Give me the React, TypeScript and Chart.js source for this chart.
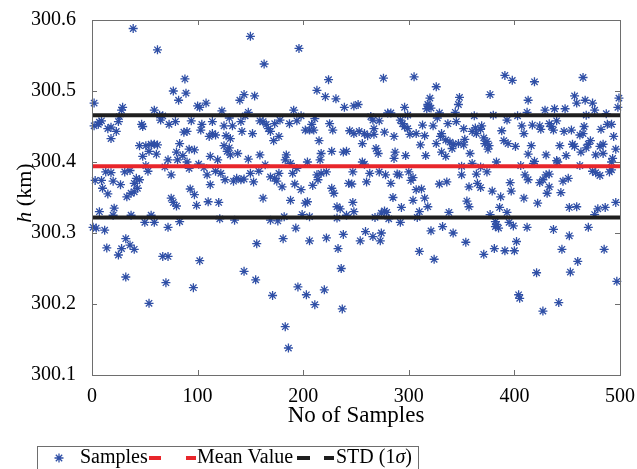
import React, { useEffect, useRef } from "react";
import { Chart, registerables } from "chart.js";

Chart.register(...registerables);

// ---------- data ----------
const xTicks = [0, 100, 200, 300, 400, 500];
const yTicks = [300.1, 300.2, 300.3, 300.4, 300.5, 300.6];
const meanValue = 300.394;
const stdValue = 0.072;

// [sample number, h (km)]
const samplesA: [number, number][] = [
  [1,300.308],[2,300.483],[2,300.451],[3,300.374],[4,300.307],[6,300.453],[7,300.456],[7,300.330],
  [9,300.458],[9,300.374],[10,300.363],[12,300.304],[13,300.386],[14,300.279],[15,300.447],[15,300.355],
  [18,300.433],[18,300.449],[18,300.385],[20,300.373],[20,300.325],[21,300.335],[23,300.443],[25,300.457],
  [25,300.269],[26,300.464],[27,300.368],[28,300.473],[28,300.278],[29,300.477],[31,300.386],[32,300.238],
  [32,300.292],[33,300.351],[36,300.388],[36,300.283],[37,300.356],[37,300.325],[39,300.588],[40,300.370],
  [40,300.358],[40,300.277],[42,300.377],[43,300.363],[45,300.375],[45,300.423],[47,300.453],[48,300.450],
  [48,300.408],[50,300.315],[51,300.423],[51,300.395],[53,300.387],[54,300.415],[54,300.201],[56,300.425],
  [56,300.325],[59,300.473],[59,300.425],[59,300.315],[61,300.411],[62,300.558],[62,300.424],[64,300.466],
  [65,300.459],[67,300.465],[67,300.267],[69,300.393],[70,300.230],[72,300.403],[72,300.308],[72,300.267],
  [73,300.453],[75,300.382],[75,300.349],[77,300.500],[77,300.343],[79,300.457],[80,300.414],[80,300.338],
  [81,300.403],[82,300.487],[83,300.426],[83,300.316],
];
const samplesB: [number, number][] = [
  [150,300.577],[163,300.538],[88,300.517],[89,300.497],[144,300.495],[154,300.493],[140,300.487],[100,300.479],
  [102,300.477],[108,300.483],[123,300.472],[148,300.470],[145,300.465],[130,300.462],[94,300.458],[114,300.457],
  [104,300.453],[125,300.451],[133,300.451],[141,300.457],[159,300.458],[87,300.442],[90,300.443],[103,300.445],
  [114,300.440],[117,300.438],[111,300.436],[127,300.437],[131,300.433],[142,300.443],[152,300.440],[92,300.418],
  [97,300.417],[125,300.423],[130,300.420],[128,300.415],[131,300.410],[138,300.412],[86,300.409],[112,300.408],
  [119,300.403],[148,300.404],[159,300.410],[90,300.400],[101,300.397],[92,300.391],[106,300.392],[117,300.387],
  [122,300.384],[126,300.375],[109,300.382],[134,300.373],[137,300.377],[141,300.375],[144,300.376],[150,300.384],
  [153,300.372],[158,300.387],[164,300.396],[112,300.368],[93,300.362],[97,300.354],[99,300.339],[110,300.344],
  [120,300.343],[162,300.349],[121,300.320],[135,300.318],[156,300.285],[102,300.261],[144,300.246],[155,300.234],
  [96,300.223],
];
const samplesC: [number, number][] = [
  [196,300.560],[224,300.516],[213,300.501],[221,300.492],[231,300.489],[239,300.477],[248,300.479],[191,300.473],
  [198,300.465],[162,300.457],[165,300.453],[167,300.447],[169,300.443],[172,300.430],[173,300.454],[178,300.459],
  [187,300.454],[194,300.458],[208,300.453],[211,300.461],[206,300.445],[202,300.445],[210,300.445],[225,300.454],
  [228,300.445],[244,300.444],[248,300.440],[177,300.436],[215,300.430],[227,300.415],[238,300.414],[241,300.415],
  [184,300.410],[183,300.403],[217,300.412],[216,300.403],[204,300.400],[188,300.398],[194,300.391],[169,300.379],
  [173,300.377],[177,300.384],[175,300.373],[190,300.384],[213,300.382],[217,300.384],[222,300.386],[214,300.375],
  [247,300.386],[180,300.365],[192,300.369],[198,300.361],[209,300.367],[227,300.363],[229,300.356],[243,300.370],
  [246,300.369],[188,300.346],[202,300.342],[204,300.344],[232,300.337],[235,300.334],[247,300.343],[169,300.318],
  [176,300.317],[182,300.323],[199,300.326],[206,300.323],[232,300.321],[241,300.325],[248,300.330],[193,300.307],
  [181,300.292],[206,300.289],[222,300.293],[238,300.298],[233,300.278],[236,300.250],[171,300.212],[195,300.224],
  [203,300.213],[220,300.220],[211,300.199],[237,300.193],[183,300.168],[186,300.138],
];
const samplesD: [number, number][] = [
  [276,300.518],[305,300.520],[326,300.506],[320,300.490],[318,300.481],[321,300.476],[317,300.475],[319,300.479],
  [252,300.481],[296,300.477],[280,300.469],[283,300.469],[299,300.466],[264,300.464],[266,300.459],[329,300.469],
  [327,300.462],[272,300.458],[292,300.459],[294,300.454],[296,300.450],[299,300.447],[313,300.452],[323,300.451],
  [253,300.443],[258,300.440],[261,300.437],[267,300.439],[267,300.447],[277,300.442],[286,300.436],[301,300.439],
  [307,300.440],[315,300.437],[331,300.440],[330,300.436],[256,300.426],[311,300.424],[326,300.426],[269,300.419],
  [271,300.412],[287,300.414],[286,300.405],[297,300.409],[316,300.409],[331,300.414],[256,300.400],[258,300.397],
  [263,300.384],[272,300.386],[278,300.382],[289,300.383],[291,300.382],[300,300.386],[304,300.378],[302,300.374],
  [260,300.372],[283,300.370],[329,300.369],[307,300.361],[312,300.362],[285,300.350],[304,300.346],[315,300.349],
  [293,300.336],[318,300.337],[277,300.331],[279,300.329],[274,300.328],[310,300.330],[308,300.322],[268,300.322],
  [281,300.320],[292,300.315],[259,300.302],[266,300.295],[274,300.300],[273,300.289],[254,300.289],[321,300.303],
  [332,300.309],[310,300.274],[324,300.263],
];
const samplesE: [number, number][] = [
  [391,300.522],[398,300.515],[377,300.495],[348,300.491],[347,300.481],[413,300.487],[344,300.470],[362,300.465],
  [380,300.466],[403,300.465],[412,300.470],[337,300.454],[345,300.457],[393,300.459],[352,300.447],[360,300.443],
  [363,300.448],[368,300.446],[369,300.451],[364,300.440],[388,300.444],[407,300.451],[409,300.440],[335,300.431],
  [339,300.428],[342,300.425],[341,300.419],[347,300.426],[352,300.424],[353,300.432],[371,300.434],[374,300.429],
  [376,300.423],[375,300.418],[372,300.426],[390,300.430],[394,300.426],[401,300.422],[335,300.408],[358,300.412],
  [413,300.411],[350,300.394],[360,300.398],[368,300.393],[383,300.400],[406,300.395],[350,300.382],[364,300.383],
  [374,300.386],[410,300.382],[413,300.375],[336,300.372],[365,300.370],[368,300.364],[357,300.365],[396,300.371],
  [397,300.359],[379,300.359],[387,300.351],[409,300.349],[355,300.345],[357,300.337],[386,300.336],[338,300.329],
  [377,300.326],[393,300.329],[382,300.316],[382,300.309],[385,300.307],[383,300.312],[395,300.315],[399,300.310],
  [342,300.300],[412,300.308],[354,300.287],[402,300.288],[381,300.278],[391,300.275],[400,300.275],[371,300.270],
  [404,300.213],[405,300.208],
];
const samplesF: [number, number][] = [
  [419,300.513],[465,300.519],[457,300.493],[459,300.483],[467,300.487],[474,300.483],[499,300.490],[498,300.477],
  [476,300.473],[429,300.473],[438,300.475],[448,300.475],[468,300.466],[487,300.468],[417,300.452],[424,300.451],
  [425,300.446],[433,300.454],[435,300.450],[437,300.445],[440,300.458],[447,300.443],[454,300.445],[462,300.438],
  [465,300.440],[466,300.450],[482,300.446],[488,300.453],[492,300.453],[494,300.436],[416,300.423],[443,300.423],
  [455,300.425],[457,300.422],[470,300.425],[472,300.430],[468,300.420],[481,300.422],[484,300.425],[496,300.418],
  [430,300.410],[449,300.409],[463,300.414],[477,300.410],[484,300.412],[493,300.405],[492,300.400],[419,300.401],
  [418,300.398],[440,300.402],[441,300.400],[462,300.395],[492,300.389],[490,300.386],[424,300.371],[427,300.375],
  [430,300.382],[433,300.383],[446,300.373],[451,300.377],[474,300.387],[477,300.385],[481,300.381],[433,300.365],
  [431,300.356],[444,300.357],[422,300.342],[452,300.336],[459,300.337],[479,300.334],[486,300.336],[476,300.326],
  [496,300.343],[437,300.305],[452,300.296],[470,300.308],[445,300.277],[485,300.277],[460,300.260],[421,300.244],
  [453,300.245],[497,300.232],[442,300.202],[427,300.190],
];
const samples = [...samplesA, ...samplesB, ...samplesC, ...samplesD, ...samplesE, ...samplesF];

// ---------- style ----------
const FAMILY = "Liberation Serif";
const BLUE = "#2f4fa6";
const RED = "#e8262b";
const BLACK = "#1f1f1f";
const FRAME = "#6e6e6e";

Chart.defaults.font.family = FAMILY;

export default function App() {
  const ref = useRef<HTMLCanvasElement | null>(null);

  useEffect(() => {
    if (!ref.current) return;

    const framePlugin = {
      id: "frame",
      afterDatasetsDraw(chart: any) {
        const { ctx, chartArea: a, scales } = chart;
        ctx.save();
        ctx.strokeStyle = FRAME;
        ctx.lineWidth = 1;
        ctx.strokeRect(Math.round(a.left) + 0.5, Math.round(a.top) + 0.5, Math.round(a.right - a.left), Math.round(a.bottom - a.top));
        ctx.beginPath();
        for (const t of xTicks) {
          const x = Math.round(scales.x.getPixelForValue(t)) + 0.5;
          ctx.moveTo(x, a.bottom); ctx.lineTo(x, a.bottom - 5);
          ctx.moveTo(x, a.top); ctx.lineTo(x, a.top + 5);
        }
        for (const t of yTicks) {
          const y = Math.round(scales.y.getPixelForValue(t)) + 0.5;
          ctx.moveTo(a.left, y); ctx.lineTo(a.left + 5, y);
          ctx.moveTo(a.right, y); ctx.lineTo(a.right - 5, y);
        }
        ctx.stroke();
        ctx.restore();
      },
      afterDraw(chart: any) {
        const { ctx, chartArea: a } = chart;
        ctx.save();
        ctx.fillStyle = "#000";
        // x title
        ctx.font = `23px "${FAMILY}"`;
        ctx.textAlign = "center";
        ctx.textBaseline = "middle";
        ctx.fillText("No of Samples", (a.left + a.right) / 2, 416);
        // y title (rotated)
        ctx.save();
        ctx.translate(25, 193);
        ctx.rotate(-Math.PI / 2);
        ctx.textAlign = "left";
        ctx.font = `italic 22px "${FAMILY}"`;
        const hW = ctx.measureText("h").width;
        ctx.font = `22px "${FAMILY}"`;
        const rW = ctx.measureText(" (km)").width;
        const start = -(hW + rW) / 2;
        ctx.font = `italic 22px "${FAMILY}"`;
        ctx.fillText("h", start, 0);
        ctx.font = `22px "${FAMILY}"`;
        ctx.fillText(" (km)", start + hW, 0);
        ctx.restore();

        // legend
        const ly = 458;
        ctx.strokeStyle = FRAME;
        ctx.lineWidth = 1;
        ctx.strokeRect(37.5, 446.5, 381, 40);
        // star marker
        ctx.strokeStyle = BLUE;
        ctx.lineWidth = 1.3;
        const r = 4.5, sx = 59;
        ctx.beginPath();
        for (let k = 0; k < 4; k++) {
          const ang = (k * Math.PI) / 4;
          ctx.moveTo(sx - r * Math.cos(ang), ly - r * Math.sin(ang));
          ctx.lineTo(sx + r * Math.cos(ang), ly + r * Math.sin(ang));
        }
        ctx.stroke();
        ctx.font = `20px "${FAMILY}"`;
        ctx.textAlign = "left";
        ctx.textBaseline = "middle";
        ctx.fillStyle = "#000";
        ctx.fillText("Samples", 80, ly);
        const seg = (x1: number, x2: number, c: string) => {
          ctx.strokeStyle = c; ctx.lineWidth = 4;
          ctx.beginPath(); ctx.moveTo(x1, ly); ctx.lineTo(x2, ly); ctx.stroke();
        };
        seg(149, 161, RED); seg(186, 196, RED);
        ctx.fillText("Mean Value", 197, ly);
        seg(297, 310, BLACK); seg(324, 334, BLACK);
        let tx = 336;
        ctx.fillText("STD (1", tx, ly);
        tx += ctx.measureText("STD (1").width;
        ctx.font = `italic 20px "${FAMILY}"`;
        ctx.fillText("\u03C3", tx, ly);
        tx += ctx.measureText("\u03C3").width;
        ctx.font = `20px "${FAMILY}"`;
        ctx.fillText(")", tx, ly);
        ctx.restore();
      },
    };

    const chart = new Chart(ref.current, {
      type: "scatter",
      data: {
        datasets: [
          {
            label: "Samples",
            data: samples.map(([x, y]) => ({ x, y })),
            pointStyle: "star",
            pointRadius: 4.5,
            pointBorderWidth: 1.3,
            borderColor: BLUE,
            backgroundColor: BLUE,
            showLine: false,
            clip: false,
            order: 3,
          } as any,
          {
            type: "line",
            label: "Mean Value",
            data: [{ x: 0, y: meanValue }, { x: 500, y: meanValue }],
            borderColor: RED,
            borderWidth: 4,
            pointRadius: 0,
            order: 1,
          } as any,
          {
            type: "line",
            label: "STD (1σ)",
            data: [{ x: 0, y: meanValue + stdValue }, { x: 500, y: meanValue + stdValue }],
            borderColor: BLACK,
            borderWidth: 4,
            pointRadius: 0,
            order: 1,
          } as any,
          {
            type: "line",
            label: "STD lower",
            data: [{ x: 0, y: meanValue - stdValue }, { x: 500, y: meanValue - stdValue }],
            borderColor: BLACK,
            borderWidth: 4,
            pointRadius: 0,
            order: 1,
          } as any,
        ],
      },
      options: {
        animation: false,
        responsive: false,
        devicePixelRatio: 1,
        layout: { padding: { top: 20, right: 15, left: 0, bottom: 0 } },
        plugins: { legend: { display: false }, tooltip: { enabled: false } },
        scales: {
          x: {
            type: "linear",
            min: 0,
            max: 500,
            afterBuildTicks: (s: any) => { s.ticks = xTicks.map((v) => ({ value: v })); },
            afterFit: (s: any) => { s.height = 94; },
            grid: { display: false },
            border: { display: false },
            ticks: { font: { family: FAMILY, size: 20 }, color: "#000", padding: 2, maxRotation: 0 },
          },
          y: {
            type: "linear",
            min: 300.1,
            max: 300.6,
            afterBuildTicks: (s: any) => { s.ticks = yTicks.map((v) => ({ value: v })); },
            afterFit: (s: any) => { s.width = 92; },
            grid: { display: false },
            border: { display: false },
            ticks: {
              font: { family: FAMILY, size: 20 },
              color: "#000",
              padding: 8,
              callback: (v: any) => Number(v).toFixed(1),
            },
          },
        },
      } as any,
      plugins: [framePlugin],
    });

    return () => chart.destroy();
  }, []);

  return (
    <div style={{ position: "absolute", left: 0, top: 0, width: 637, height: 469, background: "#fff" }}>
      <canvas ref={ref} width={637} height={469} style={{ display: "block" }} />
    </div>
  );
}
